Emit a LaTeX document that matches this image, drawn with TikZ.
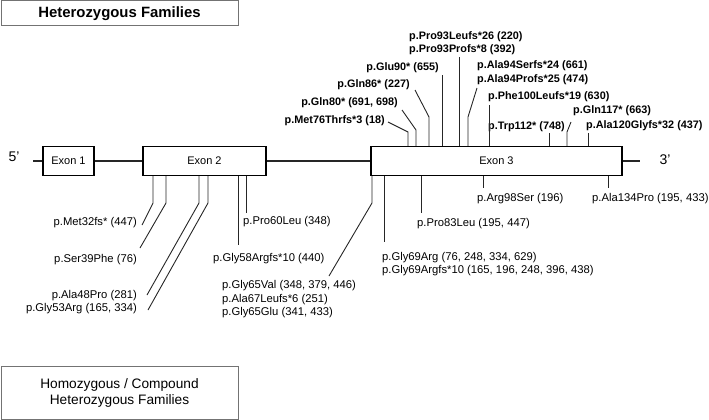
\documentclass[tikz,border=0pt]{standalone}
\usepackage{fontspec}
\setmainfont{Liberation Sans}
\begin{document}
\begin{tikzpicture}[x=1pt,y=-1pt,
  exon/.style={draw=black,line width=1.1pt,inner sep=0pt,font=\fontsize{11}{13}\selectfont},
  fambox/.style={draw=black!55,line width=1pt,inner sep=0pt,minimum width=237pt,align=center},
  mut/.style={inner sep=0pt,font=\fontsize{11.25}{13.5}\selectfont,align=left},
  mutb/.style={inner sep=0pt,font=\fontsize{10.85}{13.6}\selectfont\bfseries,align=left},
  lead/.style={draw=black!85,line width=0.9pt},
  gene/.style={draw=black!85,line width=1.6pt}]
            \useasboundingbox (0,0) rectangle (709,420);
            \node [fambox,minimum height=25pt,font=\fontsize{14.9}{16}\selectfont\bfseries] (het) at (119.5,13.5) {Heterozygous Families};
            \node [fambox,minimum height=53pt,font=\fontsize{13.7}{16}\selectfont] (hom) at (119.5,392.5) {Homozygous / Compound\\Heterozygous Families};
            \node [inner sep=0pt,font=\fontsize{14}{16}\selectfont] (p5) at (14,157) {5’};
            \node [inner sep=0pt,font=\fontsize{14}{16}\selectfont] (p3) at (665,160) {3’};
            \coordinate (g5) at (33,161);
            \coordinate (g3) at (640,161);
            \node [exon,minimum width=51pt,minimum height=29pt] (ex1) at (68.5,161) {Exon 1};
            \node [exon,minimum width=123pt,minimum height=29pt] (ex2) at (204.5,161) {Exon 2};
            \node [exon,minimum width=251pt,minimum height=29pt] (ex3) at (496.5,161) {Exon 3};
            \draw [gene] (g5) -- (ex1.west);
            \draw [gene] (ex1.east) -- (ex2.west);
            \draw [gene] (ex2.east) -- (ex3.west);
            \draw [gene] (ex3.east) -- (g3);
            \node [mut,anchor=east] (m32) at (137,223) {p.Met32fs* (447)};
            \node [mut,anchor=east] (s39) at (137,260) {p.Ser39Phe (76)};
            \node [mut,anchor=east] (a48) at (137,296) {p.Ala48Pro (281)};
            \node [mut,anchor=east] (g53) at (137,309) {p.Gly53Arg (165, 334)};
            \node [mut,anchor=west] (g58) at (213,259) {p.Gly58Argfs*10 (440)};
            \node [mut,anchor=west] (p60) at (243,222) {p.Pro60Leu (348)};
            \node [mut,anchor=west] (g65) at (222,299.5) {p.Gly65Val (348, 379, 446)\\p.Ala67Leufs*6 (251)\\p.Gly65Glu (341, 433)};
            \node [mut,anchor=west] (g69) at (382,264) {p.Gly69Arg (76, 248, 334, 629)\\p.Gly69Argfs*10 (165, 196, 248, 396, 438)};
            \node [mut,anchor=west] (p83) at (417,224) {p.Pro83Leu (195, 447)};
            \node [mut,anchor=west] (r98) at (477,199) {p.Arg98Ser (196)};
            \node [mut,anchor=west] (a134) at (592,199) {p.Ala134Pro (195, 433)};
            \node [mutb,anchor=east] (m76) at (385,121) {p.Met76Thrfs*3 (18)};
            \node [mutb,anchor=east] (q80) at (398,103) {p.Gln80* (691, 698)};
            \node [mutb,anchor=east] (q86) at (410,85) {p.Gln86* (227)};
            \node [mutb,anchor=east] (e90) at (439,68) {p.Glu90* (655)};
            \node [mutb,anchor=west] (p93) at (409,43) {p.Pro93Leufs*26 (220)\\p.Pro93Profs*8 (392)};
            \node [mutb,anchor=west] (a94) at (477,72.5) {p.Ala94Serfs*24 (661)\\p.Ala94Profs*25 (474)};
            \node [mutb,anchor=west] (f100) at (488,97) {p.Phe100Leufs*19 (630)};
            \node [mutb,anchor=west] (w112) at (488,127) {p.Trp112* (748)};
            \node [mutb,anchor=west] (q117) at (573,111) {p.Gln117* (663)};
            \node [mutb,anchor=west] (a120) at (586,126) {p.Ala120Glyfs*32 (437)};
            \coordinate (m32k) at (153,203);
            \coordinate (m32e) at (142,225);
            \coordinate (s39k) at (166,203);
            \coordinate (s39e) at (140,248);
            \coordinate (a48k) at (199,203);
            \coordinate (a48e) at (147,295);
            \coordinate (g53k) at (208,203);
            \coordinate (g53e) at (148,310);
            \coordinate (g58e) at (238,245);
            \coordinate (p60e) at (246,213);
            \coordinate (g65k) at (372,203);
            \coordinate (g65e) at (329,276);
            \coordinate (g69e) at (384,242);
            \coordinate (p83e) at (421,213);
            \coordinate (r98e) at (483,188);
            \coordinate (a134e) at (608,188);
            \coordinate (m76k) at (408,132);
            \coordinate (m76e) at (388,122);
            \coordinate (q80k) at (416,130);
            \coordinate (q80e) at (402,110);
            \coordinate (q86k) at (429,117);
            \coordinate (q86e) at (415,90);
            \coordinate (e90e) at (442,75);
            \coordinate (p93e) at (459,57);
            \coordinate (a94k) at (468,117);
            \coordinate (a94e) at (477,88);
            \coordinate (f100e) at (489,105);
            \coordinate (w112e) at (549,133);
            \coordinate (q117k) at (567,132);
            \coordinate (q117e) at (571,122);
            \coordinate (a120e) at (588,133);
            \draw [lead] (ex2.south -| m32k) -- (m32k) -- (m32e);
            \draw [lead] (ex2.south -| s39k) -- (s39k) -- (s39e);
            \draw [lead] (ex2.south -| a48k) -- (a48k) -- (a48e);
            \draw [lead] (ex2.south -| g53k) -- (g53k) -- (g53e);
            \draw [lead] (ex2.south -| g58e) -- (g58e);
            \draw [lead] (ex2.south -| p60e) -- (p60e);
            \draw [lead] (ex3.south -| g65k) -- (g65k) -- (g65e);
            \draw [lead] (ex3.south -| g69e) -- (g69e);
            \draw [lead] (ex3.south -| p83e) -- (p83e);
            \draw [lead] (ex3.south -| r98e) -- (r98e);
            \draw [lead] (ex3.south -| a134e) -- (a134e);
            \draw [lead] (ex3.north -| m76k) -- (m76k) -- (m76e);
            \draw [lead] (ex3.north -| q80k) -- (q80k) -- (q80e);
            \draw [lead] (ex3.north -| q86k) -- (q86k) -- (q86e);
            \draw [lead] (ex3.north -| e90e) -- (e90e);
            \draw [lead] (ex3.north -| p93e) -- (p93e);
            \draw [lead] (ex3.north -| a94k) -- (a94k) -- (a94e);
            \draw [lead] (ex3.north -| f100e) -- (f100e);
            \draw [lead] (ex3.north -| w112e) -- (w112e);
            \draw [lead] (ex3.north -| q117k) -- (q117k) -- (q117e);
            \draw [lead] (ex3.north -| a120e) -- (a120e);
        \end{tikzpicture}
\end{document}
